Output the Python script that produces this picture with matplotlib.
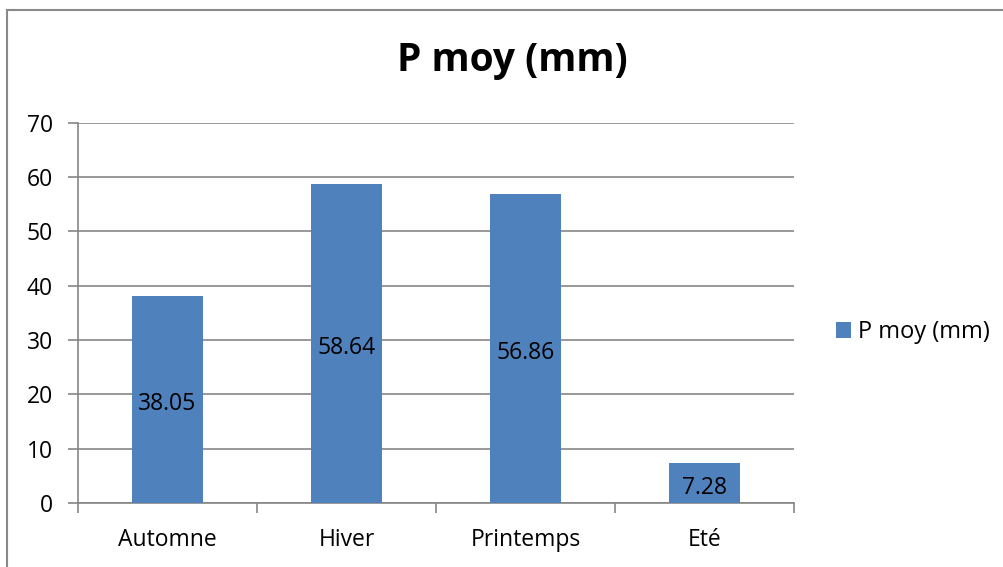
import matplotlib
matplotlib.use("Agg")
import matplotlib.pyplot as plt
from matplotlib.patches import Rectangle
import numpy as np

categories = ["Automne", "Hiver", "Printemps", "Eté"]
values = [38.05, 58.64, 56.86, 7.28]
series_name = "P moy (mm)"
yticks = [0, 10, 20, 30, 40, 50, 60, 70]

plt.rcParams['font.family'] = ['Open Sans', 'DejaVu Sans']
FS = 16.5

W, H = 1004, 567
fig = plt.figure(figsize=(W / 100, H / 100), dpi=100)
ax = fig.add_axes([78 / W, 1 - 503 / H, (794 - 78) / W, (503 - 122.5) / H])

bar_color = "#4F81BD"
grid_color = "#868686"
x = np.arange(len(categories))
bars = ax.bar(x, values, width=0.4, color=bar_color, label=series_name, zorder=3)

for b, v in zip(bars, values):
    ax.annotate(f"{v:.2f}", (b.get_x() + b.get_width() / 2, v / 2),
                xytext=(0, -3.5), textcoords="offset points",
                ha="center", va="center", fontsize=FS, color="black", zorder=4)

ax.set_xlim(-0.5, len(categories) - 0.5)
ax.set_ylim(0, 70)
ax.set_yticks(yticks)
ax.set_yticklabels([str(t) for t in yticks], fontsize=FS)
ax.yaxis.grid(True, color=grid_color, linewidth=1.2, zorder=0)
ax.set_axisbelow(True)

ax.set_xticks(x)
ax.set_xticklabels(categories, fontsize=FS)
ax.set_xticks(np.arange(len(categories) + 1) - 0.5, minor=True)
ax.tick_params(axis="x", which="major", length=0, pad=18)
ax.tick_params(axis="x", which="minor", length=7, width=1.2, color=grid_color, direction="out")
ax.tick_params(axis="y", length=7, width=1.2, color=grid_color, pad=11)

for s in ["top", "right"]:
    ax.spines[s].set_visible(False)
for s in ["left", "bottom"]:
    ax.spines[s].set_color(grid_color)
    ax.spines[s].set_linewidth(1.2)

fig.text(512 / W, 1 - 60 / H, series_name, ha="center", va="center",
         fontsize=28, fontweight="bold")

fig.legend(handles=[bars], labels=[series_name], loc="center left",
           bbox_to_anchor=(836 / W, 1 - 332 / H), frameon=False, fontsize=17,
           handlelength=0.65, handleheight=0.65, handletextpad=0.3,
           borderpad=0, borderaxespad=0)

fig.patches.append(Rectangle((7 / W, -0.1), 1.2, 1 - 10 / H + 0.1,
                             transform=fig.transFigure, fill=False,
                             edgecolor="#8a8a8a", linewidth=1.5))

fig.savefig("out.png", dpi=100, facecolor="white")
